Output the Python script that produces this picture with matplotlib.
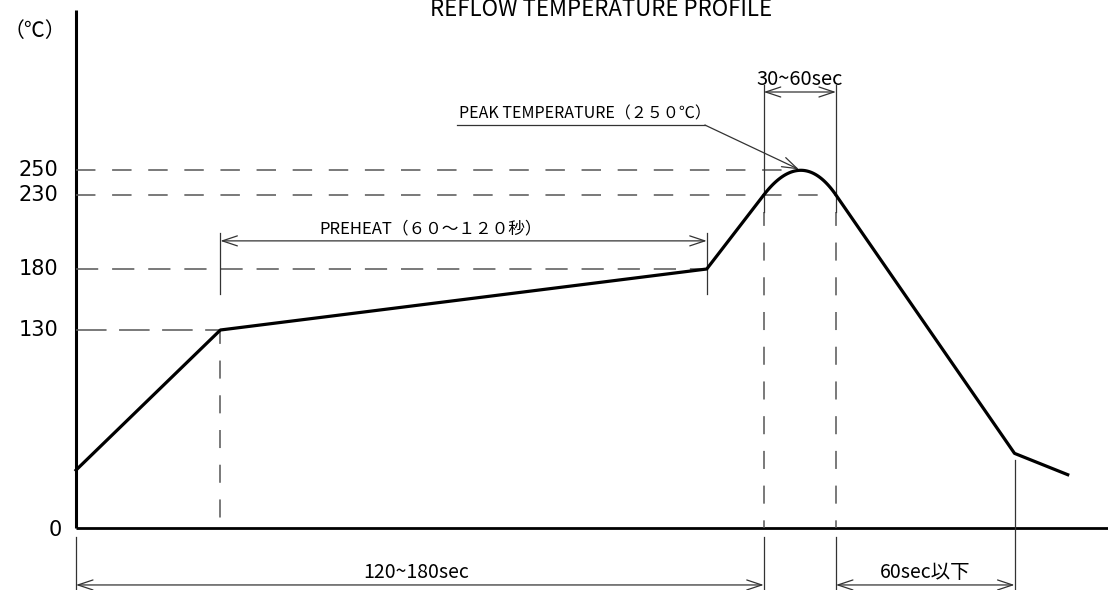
import numpy as np
import matplotlib.pyplot as plt
from matplotlib.scale import FuncScale

plt.rcParams['lines.scale_dashes'] = False

# reflow profile key points (time in s, temperature in C)
profile_time = [0, 38, 166, 181, 200, 247, 261]
profile_temp = [38, 130, 180, 230, 230, 49, 35]
peak_temp = 250

temp_levels = [250, 230, 180, 130]
temp_labels = ['250', '230', '180', '130']

preheat_span = (38, 166)
peak_span = (181, 200)
total_span = (0, 181)
cool_span = (200, 247)

title = 'REFLOW TEMPERATURE PROFILE'
preheat_label = 'PREHEAT（６０～１２０秒）'
peak_label = 'PEAK TEMPERATURE（２５０℃）'
peak_span_label = '30~60sec'
total_span_label = '120~180sec'
cool_span_label = '60sec以下'

NARROW = ['Noto Sans CJK JP', 'DejaVu Sans']
WIDE = ['DejaVu Sans']

# schematic (non-linear) temperature axis, like the drawing
tk = np.array([-100, 0, 130, 180, 230, 250, 600], dtype=float)
hk = np.array([-90.3, 62, 260, 321, 395, 420, 857.5])


def fwd(t):
    return np.interp(t, tk, hk)


def inv(h):
    return np.interp(h, hk, tk)


fig = plt.figure(figsize=(11.08, 5.9), dpi=100)
ax = fig.add_axes([0, 0, 1, 1])
ax.set_yscale(FuncScale(ax.yaxis, (fwd, inv)))
ax.set_xlim(-20, 271.6)
ax.set_ylim(inv(0), inv(590))
ax.axis('off')

# axes lines
ax.plot([0, 0], [0, 378], color='black', lw=2.2, solid_capstyle='butt')
ax.plot([0, 271.6], [0, 0], color='black', lw=2.0, solid_capstyle='butt')

# rounded peak: quadratic bezier in display space
T = ax.transData
p_a = T.transform((profile_time[2], profile_temp[2]))
p0 = T.transform((profile_time[3], profile_temp[3]))
p2 = T.transform((profile_time[4], profile_temp[4]))
p_b = T.transform((profile_time[5], profile_temp[5]))
d1 = p0 - p_a
d2 = p2 - p_b
A = np.array([d1, -d2]).T
s = np.linalg.solve(A, p_b - p_a)
p1 = p_a + s[0] * d1
u = np.linspace(0, 1, 60)[:, None]
curve = (1 - u) ** 2 * p0 + 2 * (1 - u) * u * p1 + u ** 2 * p2
curve = T.inverted().transform(curve)
peak_idx = np.argmax(curve[:, 1])
peak_time = curve[peak_idx, 0]

xs = list(profile_time[:3]) + list(curve[:, 0]) + list(profile_time[5:])
ys = list(profile_temp[:3]) + list(curve[:, 1]) + list(profile_temp[5:])
ax.plot(xs, ys, color='black', lw=2.3, solid_joinstyle='round', zorder=5)

# dashed guide lines
dash_c = '#555555'
level_ends = [peak_time, profile_time[4], profile_time[2], profile_time[1]]
level_dash = [(0, (14, 12)), (0, (14, 12)), (0, (16, 10)), (0, (22, 9))]
for lv, end, ls in zip(temp_levels, level_ends, level_dash):
    ax.plot([0, end], [lv, lv], color=dash_c, lw=1.1, ls=ls)
for tx, top in [(profile_time[1], 130), (peak_span[0], 218.5), (peak_span[1], 218.5)]:
    ax.plot([tx, tx], [top, 0], color=dash_c, lw=1.1, ls=(3, (13, 12)))

# tick labels
for lv, lab in zip(temp_levels, temp_labels):
    ax.text(-4.7, lv, lab, ha='right', va='center', fontsize=15, family=WIDE)
ax.text(-3.7, -1.3, '0', ha='right', va='center', fontsize=15, family=WIDE)
ax.text(-10.8, 361, '（℃）', ha='center', va='center', fontsize=15,
        family=['Noto Sans CJK JP', 'DejaVu Sans'])

fig.text(601 / 1108, 1 - 16 / 590, title, ha='center', va='baseline',
         fontsize=16, family=NARROW)

dim_c = '#333333'
arrow = dict(arrowstyle='<->,head_length=0.9,head_width=0.3', color=dim_c,
             lw=0.9, mutation_scale=12, shrinkA=0, shrinkB=0)


def dim(x0, x1, y):
    ax.annotate('', xy=(x1, y), xytext=(x0, y), arrowprops=arrow)


def ext(x, y0, y1):
    ax.plot([x, x], [y0, y1], color=dim_c, lw=0.9)


# preheat dimension
for tx in preheat_span:
    ext(tx, 204.3, 159.5)
dim(preheat_span[0], preheat_span[1], 199)
ax.text(93.2, 204.3, preheat_label, ha='center', va='baseline', fontsize=12, family=NARROW)

# 30~60sec dimension
for tx in peak_span:
    ext(tx, 318, 218.5)
dim(peak_span[0], peak_span[1], 312.4)
ax.text(sum(peak_span) / 2, 318, peak_span_label, ha='center', va='baseline',
        fontsize=14.5, family=NARROW)

# peak leader
ax.plot([100.3, 165.5], [286, 286], color=dim_c, lw=0.9)
ax.annotate('', xy=(peak_time, peak_temp), xytext=(165.5, 286),
            arrowprops=dict(arrowstyle='->,head_length=0.9,head_width=0.3', color=dim_c,
                            lw=0.9, mutation_scale=12, shrinkA=0, shrinkB=1))
ax.text(134, 291.6, peak_label, ha='center', va='baseline', fontsize=11.5, family=NARROW)

# bottom dimensions
bottom = inv(0)
for tx in [total_span[0], total_span[1], cool_span[0]]:
    ext(tx, -5.9, bottom)
ext(cool_span[1], 44.6, bottom)
dim(total_span[0], total_span[1], -37.4)
dim(cool_span[0], cool_span[1], -37.4)
ax.text(89.5, -32.8, total_span_label, ha='center', va='baseline', fontsize=14, family=NARROW)
ax.text(sum(cool_span) / 2, -32.8, cool_span_label, ha='center', va='baseline',
        fontsize=14, family=NARROW)

fig.savefig('out.png', dpi=100)
